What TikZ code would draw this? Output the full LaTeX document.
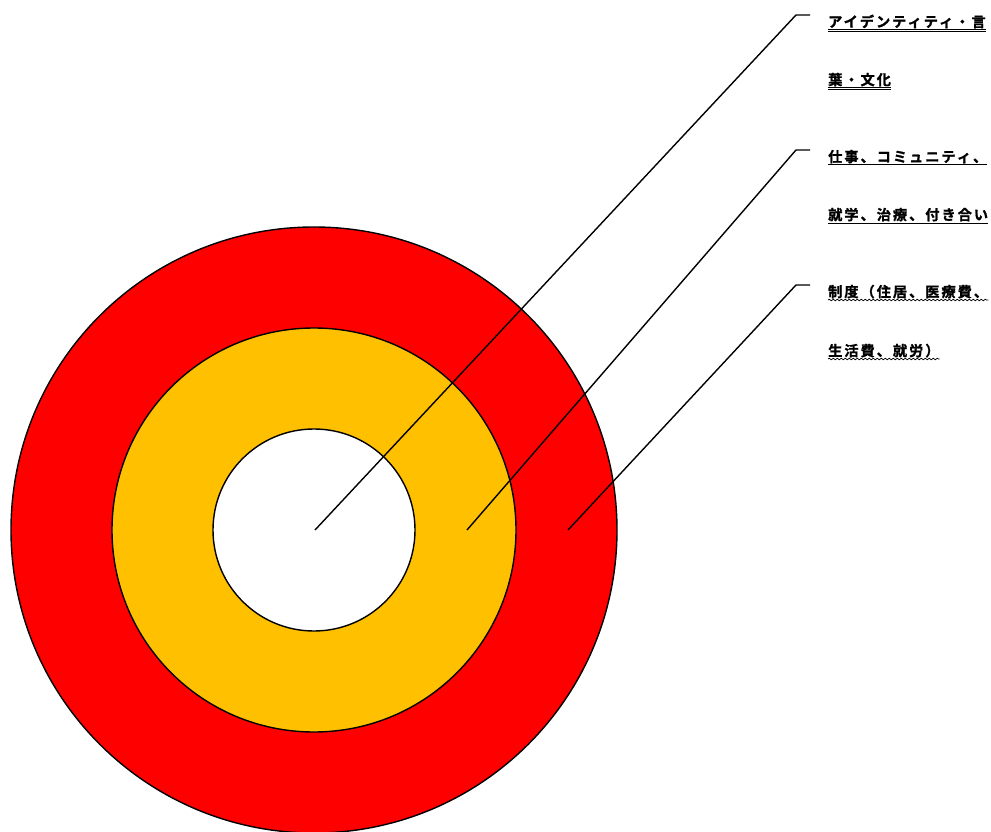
\documentclass[tikz,border=0pt]{standalone}
\usepackage{fontspec}
\newfontfamily\jp[LetterSpace=14,FakeBold=1.2]{Noto Sans CJK JP Bold}
\usetikzlibrary{decorations.pathmorphing}
\definecolor{ringred}{HTML}{FF0000}
\definecolor{ringorange}{HTML}{FFC000}
\tikzset{
  ring/.style={draw=black, line width=1.4pt},
  leader/.style={draw=black, line width=1.4pt},
  lbl/.style={anchor=base west, inner sep=0pt, font=\jp\fontsize{14.2pt}{15pt}\selectfont},
  uline/.style={draw=black, line width=1pt},
  wline/.style={draw=black, line width=0.7pt, decorate, decoration={snake, amplitude=0.8pt, segment length=4pt}}
}
\begin{document}
\begin{tikzpicture}[x=1pt,y=-1pt]
\useasboundingbox (0,0) rectangle (991,832);
\fill[white] (0,0) rectangle (991,832);
% rings
\path[ring, fill=ringred] (314,530) circle[radius=303];
\path[ring, fill=ringorange] (314,530) circle[radius=202];
\path[ring, fill=white] (314,530) circle[radius=101];
% anchor coordinates
\coordinate (p1) at (315,530);
\coordinate (p2) at (467,530);
\coordinate (p3) at (568,530);
\coordinate (k1) at (796,15);
\coordinate (k2) at (796,150);
\coordinate (k3) at (796,285);
\coordinate (e1) at (810,15);
\coordinate (e2) at (810,150);
\coordinate (e3) at (810,285);
\draw[leader] (p1) -- (k1) -- (e1);
\draw[leader] (p2) -- (k2) -- (e2);
\draw[leader] (p3) -- (k3) -- (e3);
% labels
\node[lbl] (a1) at (828,27) {アイデンティティ・言};
\node[lbl] (a2) at (828,85) {葉・文化};
\node[lbl] (b1) at (828,162) {仕事、コミュニティ、};
\node[lbl] (b2) at (828,220) {就学、治療、付き合い};
\node[lbl] (c1) at (828,297) {制度（住居、医療費、};
\node[lbl] (c2) at (828,356) {生活費、就労）};
% underlines
\foreach \n in {a1,a2}{
  \draw[uline] ([yshift=-3pt]\n.base west) -- ([yshift=-3pt]\n.base east);
  \draw[uline] ([yshift=-5pt]\n.base west) -- ([yshift=-5pt]\n.base east);
}
\foreach \n in {b1,b2}{
  \draw[uline] ([yshift=-3pt]\n.base west) -- ([yshift=-3pt]\n.base east);
}
\foreach \n in {c1,c2}{
  \draw[wline] ([yshift=-3pt]\n.base west) -- ([yshift=-3pt]\n.base east);
}
\end{tikzpicture}
\end{document}
